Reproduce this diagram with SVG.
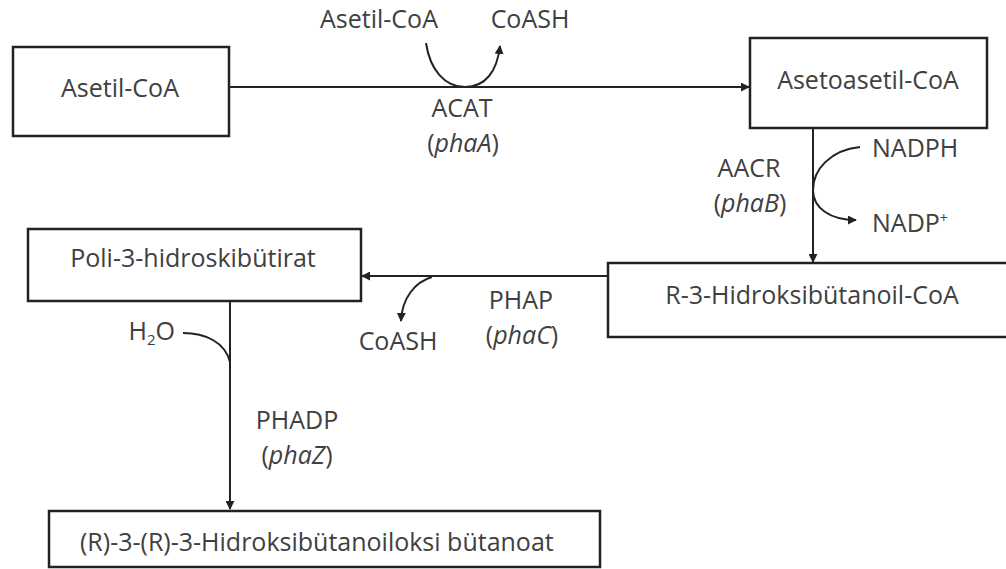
<svg xmlns="http://www.w3.org/2000/svg" width="1006" height="569" viewBox="0 0 1006 569">
<style>
.box{fill:#fff;stroke:#222;stroke-width:2.5}
.t{font-family:"Open Sans","Noto Sans",sans-serif;font-size:25px;fill:#404040}
.c{text-anchor:middle}
.ln{fill:none;stroke:#222;stroke-width:2}
.i{font-style:italic}
</style>
<defs>
<marker id="ah" viewBox="0 0 10 10" refX="9" refY="5" markerWidth="4.5" markerHeight="4.5" orient="auto" markerUnits="strokeWidth">
<path d="M0,0 L10,5 L0,10 z" fill="#222"/>
</marker>
</defs>
<rect width="1006" height="569" fill="#fff"/>
<g id="connectors">
<line class="ln" x1="229" y1="87" x2="749" y2="87" marker-end="url(#ah)"/>
<path class="ln" d="M426,43 C430,70 445,87 465,87 C485,87 497,72 500,46" marker-end="url(#ah)"/>
<line class="ln" x1="813" y1="128" x2="813" y2="262" marker-end="url(#ah)"/>
<path class="ln" d="M860,147 C830,150 813,170 813,190 C813,208 830,220 856,220" marker-end="url(#ah)"/>
<line class="ln" x1="608" y1="276" x2="362" y2="276" marker-end="url(#ah)"/>
<path class="ln" d="M432,277 C415,282 402,298 401,321" marker-end="url(#ah)"/>
<line class="ln" x1="230" y1="301" x2="230" y2="509" marker-end="url(#ah)"/>
<path class="ln" d="M183,333 C205,333 225,342 230,362"/>
</g>
<g id="n1"><rect class="box" x="13" y="47" width="216" height="89"/><text class="t c" x="120" y="97">Asetil-CoA</text></g>
<g id="n2"><rect class="box" x="750" y="38" width="237" height="90"/><text class="t c" x="868" y="89">Asetoasetil-CoA</text></g>
<g id="n3"><rect class="box" x="608" y="263" width="410" height="74"/><text class="t c" x="812" y="304">R-3-Hidroksibütanoil-CoA</text></g>
<g id="n4"><rect class="box" x="28" y="229" width="333" height="72"/><text class="t c" x="193" y="267">Poli-3-hidroskibütirat</text></g>
<g id="n5"><rect class="box" x="49" y="511" width="551" height="56"/><text class="t" x="80" y="551">(R)-3-(R)-3-Hidroksibütanoiloksi bütanoat</text></g>
<g id="labels">
<text class="t c" x="379" y="28">Asetil-CoA</text>
<text class="t c" x="530" y="28">CoASH</text>
<text class="t c" x="462" y="117">ACAT</text>
<text class="t c" x="463" y="152">(<tspan class="i">phaA</tspan>)</text>
<text class="t" x="872" y="157">NADPH</text>
<text class="t" x="872" y="232">NADP<tspan font-size="14" dy="-9">+</tspan></text>
<text class="t c" x="749" y="177">AACR</text>
<text class="t c" x="750" y="212">(<tspan class="i">phaB</tspan>)</text>
<text class="t c" x="398" y="350">CoASH</text>
<text class="t c" x="521" y="309">PHAP</text>
<text class="t c" x="522" y="344">(<tspan class="i">phaC</tspan>)</text>
<text class="t" x="175" y="340" text-anchor="end">H<tspan font-size="15" dy="5">2</tspan><tspan dy="-5">O</tspan></text>
<text class="t c" x="297" y="429">PHADP</text>
<text class="t c" x="297" y="464">(<tspan class="i">phaZ</tspan>)</text>
</g>
</svg>
